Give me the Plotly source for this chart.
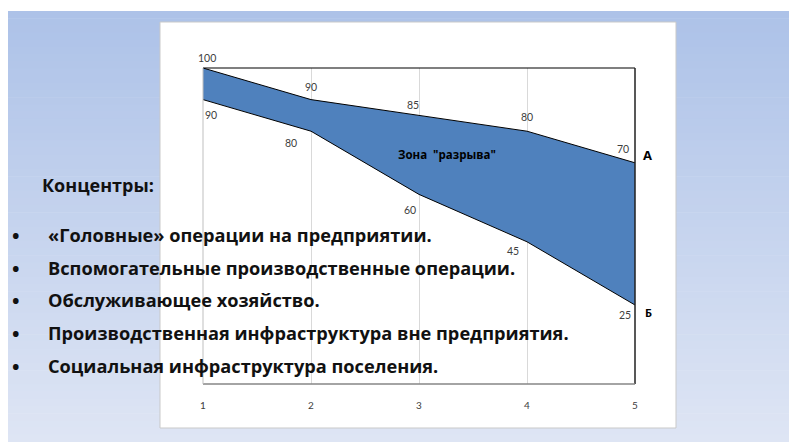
import plotly.graph_objects as go

# ---- data ----
stages = [1, 2, 3, 4, 5]
tick_labels = ["1", "2", "3", "4", "5"]
upper_values = [100, 90, 85, 80, 70]   # line A
lower_values = [90, 80, 60, 45, 25]    # line Б
zone_label = 'Зона  "разрыва"'
heading = "Концентры:"
bullets = [
    "«Головные» операции на предприятии.",
    "Вспомогательные производственные операции.",
    "Обслуживающее хозяйство.",
    "Производственная инфраструктура вне предприятия.",
    "Социальная инфраструктура поселения.",
]

# ---- geometry (page pixels; the figure sits 8px in from the page edge) ----
PAGE_W, PAGE_H = 797, 442
OFF = 8
W, H = PAGE_W - OFF, PAGE_H - OFF
L, R, T, B = 203, 635, 68, 384
PW, PH = R - L, B - T


def px(x):
    return (x - L) / PW


def py(y):
    return 1 - (y - T) / PH


FONT = "Lato"
TFONT = "Open Sans"
fig = go.Figure()

fig.add_trace(go.Scatter(
    x=stages, y=lower_values, mode="lines",
    line=dict(color="#000000", width=1), hoverinfo="skip", showlegend=False))
fig.add_trace(go.Scatter(
    x=stages, y=upper_values, mode="lines", fill="tonexty",
    fillcolor="#4f81bd", line=dict(color="#000000", width=1),
    hoverinfo="skip", showlegend=False))

shapes = []
# gradient background
top_c = (173, 194, 232)
bot_c = (222, 229, 244)
n = 60
y0, y1 = 11, PAGE_H
for i in range(n):
    t = i / (n - 1)
    c = tuple(round(top_c[k] + (bot_c[k] - top_c[k]) * t) for k in range(3))
    ya = y0 + (y1 - y0) * i / n
    yb = y0 + (y1 - y0) * (i + 1) / n + 0.6
    shapes.append(dict(type="rect", xref="paper", yref="paper", layer="below",
                       x0=px(OFF), x1=px(PAGE_W + 2), y0=py(ya), y1=py(yb),
                       fillcolor="rgb(%d,%d,%d)" % c, line=dict(width=0)))
# white card
shapes.append(dict(type="rect", xref="paper", yref="paper", layer="below",
                   x0=px(160), x1=px(676), y0=py(22), y1=py(428),
                   fillcolor="#ffffff", line=dict(color="#c9c9c9", width=1)))
# plot box lines
shapes.append(dict(type="line", xref="paper", yref="paper", x0=0, x1=1, y0=1, y1=1,
                   line=dict(color="#000000", width=1.2)))
shapes.append(dict(type="line", xref="paper", yref="paper", x0=1, x1=1, y0=0, y1=1,
                   line=dict(color="#202020", width=1.5)))
shapes.append(dict(type="line", xref="paper", yref="paper", x0=0, x1=1, y0=0, y1=0,
                   line=dict(color="#868686", width=1.5)))
shapes.append(dict(type="line", xref="paper", yref="paper", x0=0, x1=0, y0=0, y1=1,
                   line=dict(color="#bfbfbf", width=1)))

annotations = []
label_font = dict(family=FONT, size=10.5, color="#404040")
upper_off = [(4, -10), (0, -13), (-6, -10), (0, -14), (-12, -14)]
lower_off = [(8, 15), (-20, 12), (-9, 16), (-14, 9), (-10, 10)]
for xv, yv, (dx, dy) in zip(stages, upper_values, upper_off):
    annotations.append(dict(x=xv, y=yv, xref="x", yref="y", text=str(yv),
                            xanchor="center", yanchor="middle",
                            showarrow=False, xshift=dx, yshift=-dy, font=label_font))
for xv, yv, (dx, dy) in zip(stages, lower_values, lower_off):
    annotations.append(dict(x=xv, y=yv, xref="x", yref="y", text=str(yv),
                            xanchor="center", yanchor="middle",
                            showarrow=False, xshift=dx, yshift=-dy, font=label_font))


def note(x, y, text, size, anchor="center", family=TFONT, color="#000000"):
    annotations.append(dict(x=px(x), y=py(y), xref="paper", yref="paper",
                            xanchor=anchor, yanchor="middle", text=text,
                            showarrow=False,
                            font=dict(family=family, size=size, color=color)))


note(447, 154, "<b>%s</b>" % zone_label, 11.5)
note(647, 155, "<b>А</b>", 13)
note(648, 312, "<b>Б</b>", 11)

note(40, 185, "<b>%s</b>" % heading, 18, anchor="left", color="#111111")
line_y = [235, 268, 300, 333, 366]
for txt, yy in zip(bullets, line_y):
    note(16, yy, "<b>•</b>", 20, color="#111111")
    note(46, yy, "<b>%s</b>" % txt, 18.2, anchor="left", color="#111111")

fig.update_layout(
    width=W, height=H,
    margin=dict(l=L - OFF, r=PAGE_W - R, t=T - OFF, b=PAGE_H - B),
    paper_bgcolor="#ffffff", plot_bgcolor="rgba(0,0,0,0)",
    shapes=shapes, annotations=annotations, showlegend=False,
    xaxis=dict(range=[1, 5], tickvals=stages, ticktext=tick_labels,
               showgrid=True, gridcolor="#d9d9d9", gridwidth=1,
               zeroline=False, showline=False, ticks="",
               ticklabelstandoff=14,
               tickfont=dict(family=FONT, size=10, color="#404040")),
    yaxis=dict(range=[0, 100], showgrid=False, zeroline=False,
               showticklabels=False, showline=False, ticks=""),
)

fig.write_html("out.html")
